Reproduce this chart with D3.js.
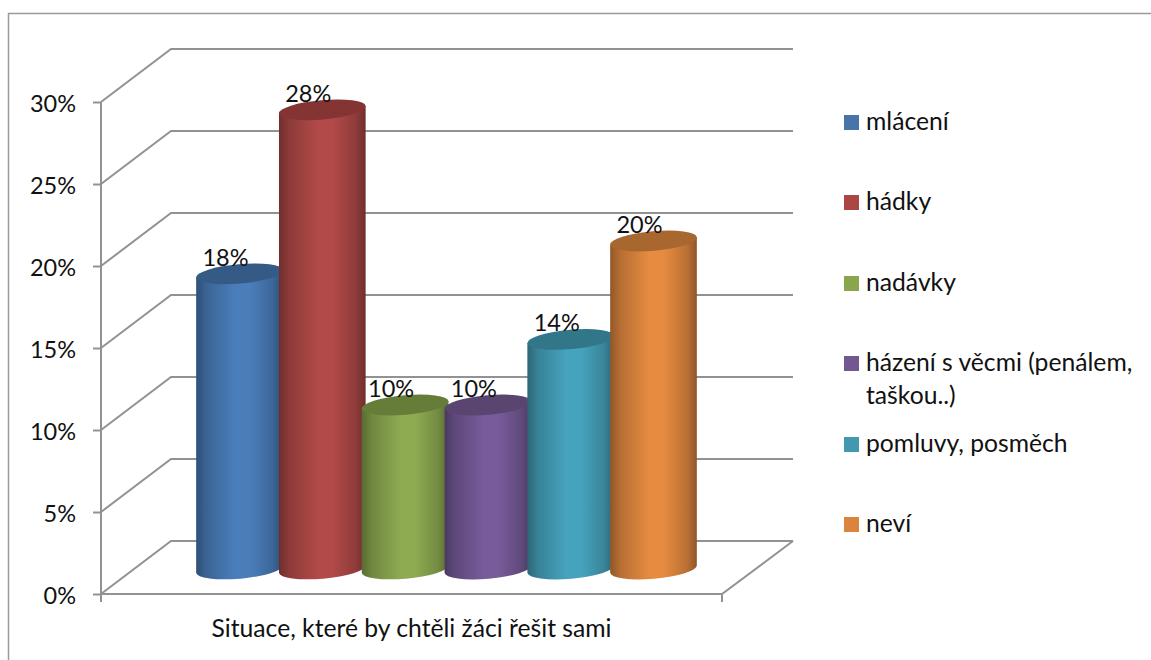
<!DOCTYPE html>
<html>
<head>
<meta charset="utf-8">
<script src="https://cdn.jsdelivr.net/npm/d3@7"></script>
<style>
	body { margin: 0; background: #fff; }
	text { font-family: Lato, sans-serif; fill: #111; }
</style>
</head>
<body>
<div id="chart"></div>
<script>

const categories = ['mlácení', 'hádky', 'nadávky', 'házení s věcmi (penálem, taškou..)', 'pomluvy, posměch', 'neví'];
const legendLines = [['mlácení'], ['hádky'], ['nadávky'], ['házení s věcmi (penálem,', 'taškou..)'], ['pomluvy, posměch'], ['neví']];
const values = [18, 28, 10, 10, 14, 20];
const yTicks = [0, 5, 10, 15, 20, 25, 30];
const axisTitle = 'Situace, které by chtěli žáci řešit sami';

const baseColors = ['#4a7ebb', '#b14a48', '#8eab51', '#775b9a', '#46a3bd', '#e68b40'];
const topColors = ['#355a85', '#843533', '#667d3a', '#5a4570', '#317789', '#a8672f'];
const legendColors = ['#4674ab', '#aa4643', '#89a54e', '#71588f', '#4198af', '#db843d'];

const width = 1151, height = 660;
const depthX = 70, depthY = -53;
const rx = 43.5, ry = 9.7, tilt = -5;
const baseShift = 25; // floor offset of the cylinders from the front edge

const svg = d3.select('#chart').append('svg')
	.attr('width', width)
	.attr('height', height)
	.style('display', 'block');

const yScale = d3.scaleLinear().domain([0, 30]).range([594, 102]);
const xScale = d3.scalePoint().domain(categories).range([239.5, 653.5]);
const x0 = 101, x1 = 722;
const gridColor = '#929292';

// outer frame, only top and left are inside the crop
svg.append('path')
	.attr('d', `M8.5,${height} V13.5 H${width}`)
	.attr('fill', 'none')
	.attr('stroke', '#9a9a9a')
	.attr('stroke-width', 1.5);

// gradients for the cylinder bodies
const defs = svg.append('defs');
baseColors.forEach(function(c, i) {
	const dark = d3.color(c).darker(1.3);
	const grad = defs.append('linearGradient').attr('id', 'body' + i);
	[[0, dark], [0.12, d3.interpolateRgb(dark, c)(0.45)], [0.45, c], [0.62, c], [0.88, d3.interpolateRgb(dark, c)(0.5)], [1, dark]]
		.forEach(function(s) {
			grad.append('stop').attr('offset', s[0]).attr('stop-color', s[1]);
		});
});

// walls and floor
const grid = svg.append('g')
	.attr('fill', 'none')
	.attr('stroke', gridColor)
	.attr('stroke-width', 2);

grid.selectAll('path.wall')
	.data(yTicks)
	.enter().append('path')
		.attr('class', 'wall')
		.attr('d', function(d) {
			const y = yScale(d);
			return `M${x0},${y} L${x0 + depthX},${y + depthY} H${x1 + 71}`;
		});

grid.append('path')
	.attr('d', `M${x1 + 71},${yScale(0) + depthY} L${x1},${yScale(0)} H${x0}`);

// axes
const yAxis = d3.axisLeft(yScale)
	.tickValues(yTicks)
	.tickSize(8)
	.tickPadding(17)
	.tickFormat(function(d) { return d + '%'; });

const yG = svg.append('g')
	.attr('transform', `translate(${x0}, 0)`)
	.call(yAxis);
yG.selectAll('line, path').attr('stroke', gridColor).attr('stroke-width', 2);
yG.select('.domain').attr('d', `M0,${yScale(30)} V${yScale(0) + 8}`);
yG.selectAll('text')
	.attr('font-size', 23.5)
	.attr('dy', 9.5)
	.style('font-family', 'Lato, sans-serif')
	.attr('fill', '#111');

svg.append('line')
	.attr('x1', x1).attr('x2', x1)
	.attr('y1', yScale(0)).attr('y2', yScale(0) + 8)
	.attr('stroke', gridColor)
	.attr('stroke-width', 2);

svg.append('text')
	.attr('x', 411.5)
	.attr('y', 636.5)
	.attr('text-anchor', 'middle')
	.attr('font-size', 24.7)
	.text(axisTitle);

// cylinders, drawn left to right so each one covers its neighbour
const dxEdge = rx * Math.cos(tilt * Math.PI / 180);
const dyEdge = rx * Math.sin(tilt * Math.PI / 180);

const bars = svg.selectAll('g.bar')
	.data(values)
	.enter().append('g')
		.attr('class', 'bar');

bars.append('path')
	.attr('fill', function(d, i) { return `url(#body${i})`; })
	.attr('d', function(d, i) {
		const cx = xScale(categories[i]);
		const top = yScale(d) - baseShift;
		const base = yScale(0) - baseShift;
		return `M${cx - dxEdge},${top - dyEdge} V${base - dyEdge}` +
			` A${rx},${ry} ${tilt} 0 0 ${cx + dxEdge},${base + dyEdge}` +
			` V${top + dyEdge} Z`;
	});

bars.append('ellipse')
	.attr('rx', rx)
	.attr('ry', ry)
	.attr('fill', function(d, i) { return topColors[i]; })
	.attr('transform', function(d, i) {
		return `translate(${xScale(categories[i])}, ${yScale(d) - baseShift}) rotate(${tilt})`;
	});

// value labels sit on the back rim
svg.selectAll('text.value')
	.data(values)
	.enter().append('text')
		.attr('class', 'value')
		.attr('x', function(d, i) { return xScale(categories[i]) - 14; })
		.attr('y', function(d) { return yScale(d) - baseShift - 8; })
		.attr('text-anchor', 'middle')
		.attr('font-size', 23.5)
		.text(function(d) { return d + '%'; });

// legend
const legendY = [122.5, 202.5, 283.5, 363.5, 444.5, 524.5];

const legend = svg.selectAll('g.legend')
	.data(categories)
	.enter().append('g')
		.attr('class', 'legend')
		.attr('transform', function(d, i) { return `translate(844, ${legendY[i]})`; });

legend.append('rect')
	.attr('y', -7.5)
	.attr('width', 15)
	.attr('height', 15)
	.attr('fill', function(d, i) { return legendColors[i]; });

legend.each(function(d, i) {
	d3.select(this).selectAll('text')
		.data(legendLines[i])
		.enter().append('text')
			.attr('x', 22)
			.attr('y', function(line, j) { return 7 + j * 33; })
			.attr('font-size', 24.7)
			.text(function(line) { return line; });
});

</script>
</body>
</html>
